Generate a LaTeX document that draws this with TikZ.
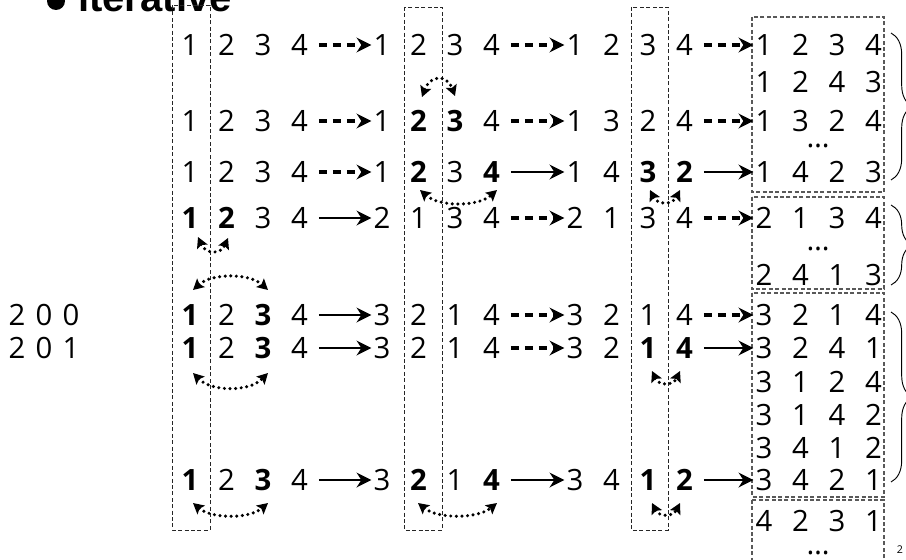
\documentclass[tikz,border=0pt]{standalone}
\usepackage{fontspec}
\setmainfont{Open Sans}
\newfontfamily\titlefont{Liberation Sans}
\usetikzlibrary{arrows.meta,decorations.pathreplacing}
\newcommand\bd[1]{\textbf{#1}}
\newcommand\prow[7]{%
  \node[dg] (#1-1) at (#2,#3) {#4};
  \node[dg] (#1-2) at (#2+36.5,#3) {#5};
  \node[dg] (#1-3) at (#2+73,#3) {#6};
  \node[dg] (#1-4) at (#2+109.5,#3) {#7};}
\newcommand\swp[6]{%
  \coordinate (#1l) at (#2,#3);
  \coordinate (#1r) at (#4,#5);
  \draw[swapline] (#1l) .. controls +({(#4-#2)/4},#6) and +({-(#4-#2)/4},#6) .. (#1r);}
\tikzset{
  dg/.style={inner sep=0pt, font=\fontsize{22pt}{26pt}\selectfont},
  darr/.style={line width=2.6pt, dash pattern=on 6pt off 4.5pt,
    -{Stealth[length=11pt,width=11pt,inset=3.5pt]}, shorten <=8pt, shorten >=1.5pt},
  sarr/.style={line width=2.1pt,
    -{Stealth[length=11pt,width=11pt,inset=3.5pt]}, shorten <=8pt, shorten >=1.5pt},
  swapline/.style={line width=2.6pt, dash pattern=on 0pt off 4.2pt, line cap=round,
    {Stealth[length=8pt,width=8.5pt,inset=1.5pt]}-{Stealth[length=8pt,width=8.5pt,inset=1.5pt]}},
  colbox/.style={draw=black!85, line width=0.7pt, dash pattern=on 3pt off 1.8pt},
  resbox/.style={draw=black!65, line width=1pt, dash pattern=on 3pt off 1.8pt},
  bracestyle/.style={decorate, decoration={brace, amplitude=16pt}, line width=0.7pt},
}
\begin{document}
\begin{tikzpicture}[x=0.75pt,y=-0.75pt]
\useasboundingbox (0,0) rectangle (906,560);
% title
\node[circle, fill, minimum size=13.5pt, inner sep=0pt] (bullet) at (56,1) {};
\node[anchor=base west, inner sep=0pt, font=\titlefont\bfseries\fontsize{30pt}{36pt}\selectfont] (title) at (78,12) {iterative};
% column boxes
\draw[colbox] (172,5) rectangle (210,530);
\draw[colbox] (404,7) rectangle (442,530);
\draw[colbox] (631,7) rectangle (668,530);
% result boxes
\draw[resbox] (752,17) rectangle (884,192);
\draw[resbox] (752,197) rectangle (884,289);
\draw[resbox] (752,293) rectangle (884,497);
\draw[resbox] (752,500) rectangle (884,575);
% rows
\prow{r1a}{190}{45}{1}{2}{3}{4}
\prow{r1b}{382}{45}{1}{2}{3}{4}
\prow{r1c}{575}{45}{1}{2}{3}{4}
\prow{r1d}{764}{45}{1}{2}{3}{4}
\prow{r2d}{764}{82}{1}{2}{4}{3}
\prow{r3a}{190}{121}{1}{2}{3}{4}
\prow{r3b}{382}{121}{1}{\bd2}{\bd3}{4}
\prow{r3c}{575}{121}{1}{3}{2}{4}
\prow{r3d}{764}{121}{1}{3}{2}{4}
\node[dg, anchor=base] (dots1) at (818,147) {…};
\prow{r4a}{190}{172}{1}{2}{3}{4}
\prow{r4b}{382}{172}{1}{\bd2}{3}{\bd4}
\prow{r4c}{575}{172}{1}{4}{\bd3}{\bd2}
\prow{r4d}{764}{172}{1}{4}{2}{3}
\prow{r5a}{190}{218}{\bd1}{\bd2}{3}{4}
\prow{r5b}{382}{218}{2}{1}{3}{4}
\prow{r5c}{575}{218}{2}{1}{3}{4}
\prow{r5d}{764}{218}{2}{1}{3}{4}
\node[dg, anchor=base] (dots2) at (818,250) {…};
\prow{r5e}{764}{275}{2}{4}{1}{3}
\prow{r6a}{190}{315}{\bd1}{2}{\bd3}{4}
\prow{r6b}{382}{315}{3}{2}{1}{4}
\prow{r6c}{575}{315}{3}{2}{1}{4}
\prow{r6d}{764}{315}{3}{2}{1}{4}
\prow{r7a}{190}{348}{\bd1}{2}{\bd3}{4}
\prow{r7b}{382}{348}{3}{2}{1}{4}
\prow{r7c}{575}{348}{3}{2}{\bd1}{\bd4}
\prow{r7d}{764}{348}{3}{2}{4}{1}
\prow{r7e}{764}{382}{3}{1}{2}{4}
\prow{r7f}{764}{415}{3}{1}{4}{2}
\prow{r7g}{764}{448}{3}{4}{1}{2}
\prow{r8a}{190}{480}{\bd1}{2}{\bd3}{4}
\prow{r8b}{382}{480}{3}{\bd2}{1}{\bd4}
\prow{r8c}{575}{480}{3}{4}{\bd1}{\bd2}
\prow{r8d}{764}{480}{3}{4}{2}{1}
\prow{r9d}{764}{521}{4}{2}{3}{1}
\node[dg, anchor=base] (dots3) at (818,554) {…};
% left labels
\node[dg] (l61) at (17,315) {2};
\node[dg] (l62) at (44,315) {0};
\node[dg] (l63) at (71,315) {0};
\node[dg] (l71) at (17,348) {2};
\node[dg] (l72) at (44,348) {0};
\node[dg] (l73) at (71,348) {1};
% arrows
\draw[darr] (r1a-4.east) -- (r1b-1.west);
\draw[darr] (r1b-4.east) -- (r1c-1.west);
\draw[darr] (r1c-4.east) -- (r1d-1.west);
\draw[darr] (r3a-4.east) -- (r3b-1.west);
\draw[darr] (r3b-4.east) -- (r3c-1.west);
\draw[darr] (r3c-4.east) -- (r3d-1.west);
\draw[darr] (r4a-4.east) -- (r4b-1.west);
\draw[sarr] (r4b-4.east) -- (r4c-1.west);
\draw[sarr] (r4c-4.east) -- (r4d-1.west);
\draw[sarr] (r5a-4.east) -- (r5b-1.west);
\draw[darr] (r5b-4.east) -- (r5c-1.west);
\draw[darr] (r5c-4.east) -- (r5d-1.west);
\draw[sarr] (r6a-4.east) -- (r6b-1.west);
\draw[darr] (r6b-4.east) -- (r6c-1.west);
\draw[darr] (r6c-4.east) -- (r6d-1.west);
\draw[sarr] (r7a-4.east) -- (r7b-1.west);
\draw[darr] (r7b-4.east) -- (r7c-1.west);
\draw[sarr] (r7c-4.east) -- (r7d-1.west);
\draw[sarr] (r8a-4.east) -- (r8b-1.west);
\draw[sarr] (r8b-4.east) -- (r8c-1.west);
\draw[sarr] (r8c-4.east) -- (r8d-1.west);
% swap arrows
\swp{s1}{422}{97}{455}{96}{-22}
\swp{s2}{420}{190}{497}{190}{17}
\swp{s3}{650}{190}{680}{190}{15}
\swp{s4}{198}{237}{228}{238}{17}
\swp{s5}{193}{290}{268}{290}{-17}
\swp{s6}{193}{373}{268}{373}{19}
\swp{s7}{652}{371}{680}{371}{15}
\swp{s8}{193}{503}{268}{503}{16}
\swp{s9}{418}{503}{497}{503}{16}
\swp{s10}{652}{503}{680}{503}{14}
% braces
\draw[bracestyle] (891,33) -- (891,180);
\draw[bracestyle] (891,205) -- (891,285);
\draw[bracestyle] (891,312) -- (891,482);
% page number
\node[inner sep=0pt, font=\fontsize{8pt}{9pt}\selectfont] (pg) at (900,550) {2};
\end{tikzpicture}
\end{document}
